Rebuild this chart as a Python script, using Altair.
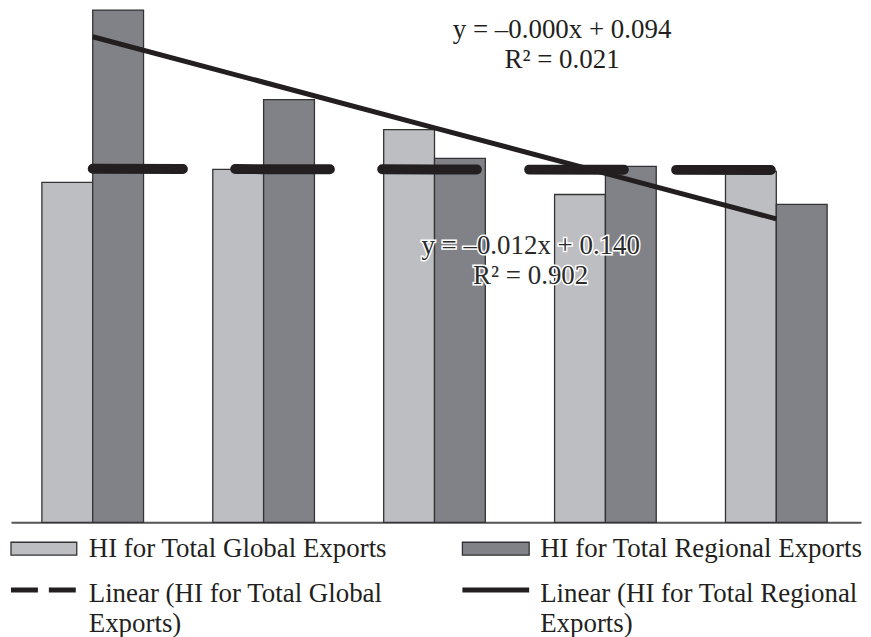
import altair as alt
import pandas as pd
import numpy as np

# ---- data ----
categories = ["1", "2", "3", "4", "5"]
series = ["HI for Total Global Exports", "HI for Total Regional Exports"]
global_hi = [0.0896, 0.0930, 0.1035, 0.0864, 0.0925]
regional_hi = [0.1350, 0.1114, 0.0959, 0.0938, 0.0838]
global_eq = "y = –0.000x + 0.094\nR² = 0.021"
regional_eq = "y = –0.012x + 0.140\nR² = 0.902"
legend_labels = [
    "HI for Total Global Exports",
    "HI for Total Regional Exports",
    "Linear (HI for Total Global\nExports)",
    "Linear (HI for Total Regional\nExports)",
]

FONT = "Liberation Serif"
INK = "#231f20"
LIGHT = "#bdbec2"
DARK = "#818287"

bars = pd.DataFrame({
    "cat": categories * 2,
    "series": [series[0]] * 5 + [series[1]] * 5,
    "value": global_hi + regional_hi,
})

xs = np.arange(1, len(categories) + 1)
g_fit = np.polyval(np.polyfit(xs, global_hi, 1), xs)
r_fit = np.polyval(np.polyfit(xs, regional_hi, 1), xs)
trend = pd.DataFrame({"cat": categories, "g": g_fit, "r": r_fit})

x_scale = alt.Scale(domain=categories, paddingInner=0.4052, paddingOuter=0.1895, align=0.477)
y_scale = alt.Scale(domain=[0, 0.135], nice=False, zero=True)
x_axis = alt.Axis(labels=False, ticks=False, title=None, grid=False,
                  domainColor="#555555", domainWidth=2)
X = alt.X("cat:N", scale=x_scale, axis=x_axis, sort=categories)

bar = alt.Chart(bars).mark_bar(stroke="#333333", strokeWidth=1.3).encode(
    x=X,
    xOffset=alt.XOffset("series:N", sort=series,
                        scale=alt.Scale(domain=series, paddingInner=0, paddingOuter=0)),
    y=alt.Y("value:Q", scale=y_scale, axis=None),
    color=alt.Color("series:N", scale=alt.Scale(domain=series, range=[LIGHT, DARK]), legend=None),
)

g_line = alt.Chart(trend).mark_line(
    color=INK, strokeWidth=10, strokeCap="round", strokeDash=[95, 52.5], strokeDashOffset=4.5
).encode(x=X, y=alt.Y("g:Q", scale=y_scale, axis=None))

r_line = alt.Chart(trend).mark_line(color=INK, strokeWidth=5).encode(
    x=X, y=alt.Y("r:Q", scale=y_scale, axis=None))

def txt(s, x, y, size=27, align="left", color=INK, **kw):
    return alt.Chart(pd.DataFrame({"t": [s]})).mark_text(
        font=FONT, fontSize=size, align=align, baseline="alphabetic",
        lineBreak="\n", lineHeight=30, color=color, **kw
    ).encode(x=alt.value(x), y=alt.value(y), text="t:N")

ann1 = txt(global_eq, 553, 28, align="center")
ann2_halo = txt(regional_eq, 521.5, 245, align="center", color="white",
                stroke="white", strokeWidth=3)
ann2 = txt(regional_eq, 521.5, 245, align="center", color="#2a2a2a")

def swatch(x0, x1, y0, y1, fill):
    return alt.Chart(pd.DataFrame({"k": [0]})).mark_rect(
        fill=fill, stroke="#333333", strokeWidth=1.3
    ).encode(x=alt.value(x0), x2=alt.value(x1), y=alt.value(y0), y2=alt.value(y1))

def legline(x0, x1, y, dash=None):
    kw = {"strokeDash": dash} if dash else {}
    return alt.Chart(pd.DataFrame({"k": [0]})).mark_rule(
        color=INK, strokeWidth=5, **kw
    ).encode(x=alt.value(x0), x2=alt.value(x1), y=alt.value(y))

legend = [
    swatch(0, 66, 534, 547, LIGHT),
    txt(legend_labels[0], 78, 549),
    swatch(453, 520, 534, 547, DARK),
    txt(legend_labels[1], 531, 549),
    legline(0, 66, 582, dash=[27, 11]),
    txt(legend_labels[2], 78, 594, lineHeight=29) if False else txt(legend_labels[2], 78, 594),
    legline(453, 520, 582),
    txt(legend_labels[3], 531, 594),
]

chart = alt.layer(bar, g_line, r_line, ann1, ann2_halo, ann2, *legend).properties(
    width=853, height=514, padding=0
).configure_view(stroke=None)

chart.save("out.html", embed_options={"renderer": "svg", "actions": False})
